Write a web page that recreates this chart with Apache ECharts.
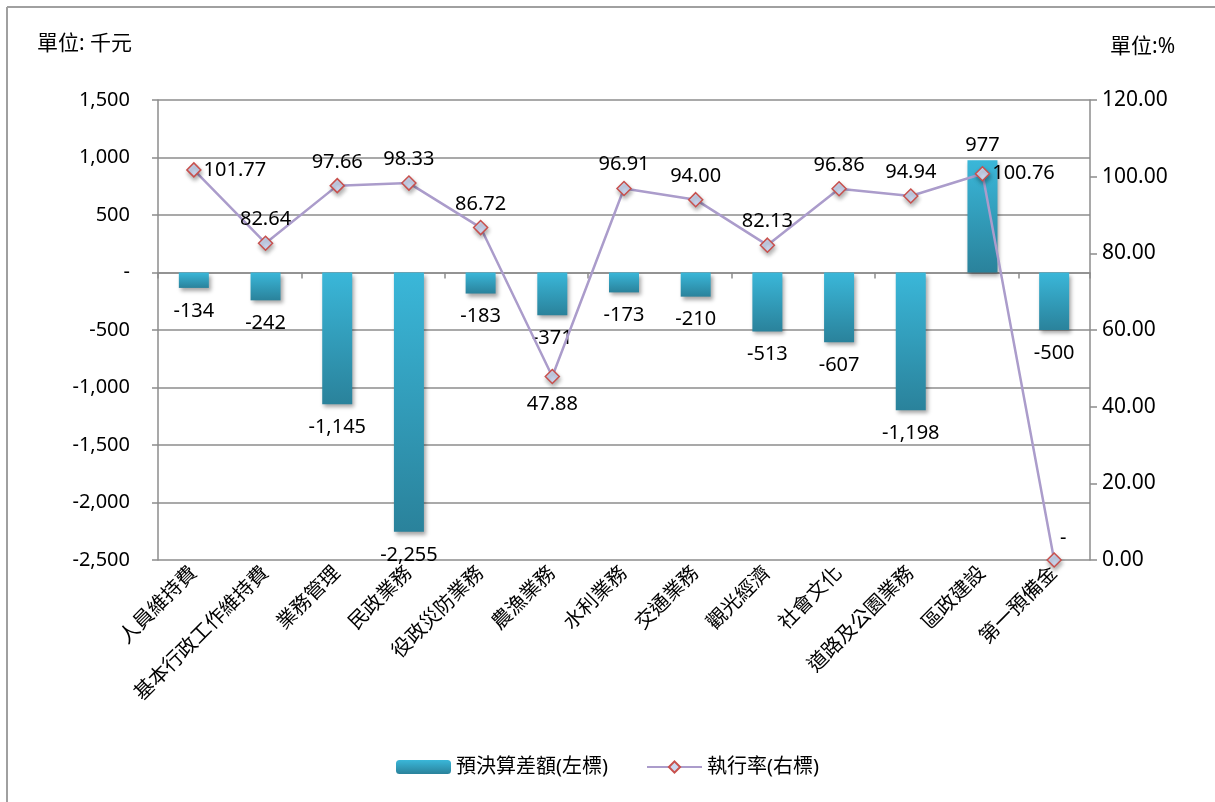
<!DOCTYPE html>
<html>
<head>
<meta charset="utf-8">
<script src="https://cdn.jsdelivr.net/npm/echarts@6/dist/echarts.min.js"></script>
<style>
html,body{margin:0;padding:0;background:#fff;}
#chart{width:1215px;height:802px;}
</style>
</head>
<body>
<div id="chart"></div>
<script>
const categories = ['人員維持費','基本行政工作維持費','業務管理','民政業務','役政災防業務','農漁業務','水利業務','交通業務','觀光經濟','社會文化','道路及公園業務','區政建設','第一預備金'];
const diffValues = [-134, -242, -1145, -2255, -183, -371, -173, -210, -513, -607, -1198, 977, -500];
const rateValues = [101.77, 82.64, 97.66, 98.33, 86.72, 47.88, 96.91, 94.00, 82.13, 96.86, 94.94, 100.76, 0];
const rateLabelPos = ['right','top','top','top','top','bottom','top','top','top','top','top','right','right'];
const barName = '預決算差額(左標)';
const lineName = '執行率(右標)';

const FONT = '"Noto Sans", "Noto Sans CJK TC", sans-serif';
const axisGray = '#8c8c8c';

const chart = echarts.init(document.getElementById('chart'));

function fmtLeft(v){
  if (v === 0) return '-';
  const s = Math.abs(v).toString().replace(/\B(?=(\d{3})+(?!\d))/g, ',');
  return (v < 0 ? '-' : '') + s;
}

const lineData = rateValues.map((v, i) => {
  const pos = rateLabelPos[i];
  const item = { value: v, label: { position: pos } };
  if (pos === 'right') item.label.distance = 2;
  if (pos === 'bottom') item.label.distance = 10;
  if (i === rateValues.length - 1) {
    item.label.offset = [-4, -22];
  }
  return item;
});

const barData = diffValues.map(v => (v > 0 ? { value: v, label: { distance: 5 } } : v));

const barGradient = new echarts.graphic.LinearGradient(0, 0, 0, 1, [
  { offset: 0, color: '#3ab7d9' },
  { offset: 1, color: '#2a829b' }
]);

chart.setOption({
  animation: false,
  textStyle: { fontFamily: FONT },
  graphic: [
    { type: 'line', shape: { x1: 7, y1: 7, x2: 1215, y2: 7 }, style: { stroke: '#a0a0a0', lineWidth: 2 } },
    { type: 'line', shape: { x1: 7, y1: 7, x2: 7, y2: 802 }, style: { stroke: '#a0a0a0', lineWidth: 2 } },
    { type: 'text', left: 37, top: 34, style: { text: '單位: 千元', fontSize: 21, fontFamily: FONT, fill: '#000' } },
    { type: 'text', left: 1110, top: 37, style: { text: '單位:%', fontSize: 21, fontFamily: FONT, fill: '#000' } }
  ],
  legend: {
    bottom: 20,
    left: 'center',
    itemWidth: 55,
    itemHeight: 14,
    itemGap: 38,
    textStyle: { fontSize: 20, color: '#000', fontFamily: FONT },
    data: [barName, lineName]
  },
  grid: { left: 158, right: 125, top: 100, bottom: 242, containLabel: false },
  xAxis: [
    {
      type: 'category',
      data: categories,
      position: 'bottom',
      axisLine: { show: false, onZero: false },
      axisTick: { show: false },
      axisLabel: { rotate: 45, fontSize: 20, color: '#000', margin: 10, interval: 0, fontFamily: FONT }
    },
    {
      type: 'category',
      data: categories,
      position: 'bottom',
      axisLine: { show: true, onZero: true, onZeroAxisIndex: 0, lineStyle: { color: axisGray, width: 1.5 } },
      axisTick: { show: true, length: 6, lineStyle: { color: axisGray, width: 1.5 } },
      axisLabel: { show: false },
      splitLine: { show: false }
    }
  ],
  yAxis: [
    {
      type: 'value',
      min: -2500, max: 1500, interval: 500,
      axisLine: { show: true, lineStyle: { color: axisGray, width: 1.5 } },
      axisTick: { show: true, length: 6, lineStyle: { color: axisGray, width: 1.5 } },
      axisLabel: { fontSize: 20, color: '#000', margin: 28, formatter: fmtLeft, fontFamily: FONT },
      splitLine: { show: true, lineStyle: { color: axisGray, width: 1.5 } }
    },
    {
      type: 'value',
      min: 0, max: 120, interval: 20,
      position: 'right',
      axisLine: { show: true, lineStyle: { color: axisGray, width: 1.5 } },
      axisTick: { show: true, length: 7, lineStyle: { color: axisGray, width: 1.5 } },
      axisLabel: { fontSize: 21, color: '#000', margin: 12, formatter: v => v.toFixed(2), fontFamily: FONT },
      splitLine: { show: false }
    }
  ],
  series: [
    {
      name: barName,
      type: 'bar',
      xAxisIndex: 0,
      yAxisIndex: 0,
      data: barData,
      barWidth: 30,
      itemStyle: {
        color: barGradient,
        shadowBlur: 4,
        shadowOffsetX: 2,
        shadowOffsetY: 3,
        shadowColor: 'rgba(0,0,0,0.35)'
      },
      label: {
        show: true,
        position: 'outside',
        distance: 13,
        fontSize: 20,
        color: '#000',
        fontFamily: FONT,
        formatter: p => fmtLeft(p.value)
      },
      z: 2
    },
    {
      name: lineName,
      type: 'line',
      xAxisIndex: 0,
      yAxisIndex: 1,
      data: lineData,
      symbol: 'diamond',
      symbolSize: 14,
      lineStyle: { color: '#ab9ccb', width: 2.5 },
      itemStyle: {
        color: '#ccd7ef',
        borderColor: '#c8504d',
        borderWidth: 1.5,
        shadowBlur: 4,
        shadowOffsetX: 1,
        shadowOffsetY: 3,
        shadowColor: 'rgba(0,0,0,0.3)'
      },
      label: {
        show: true,
        fontSize: 20,
        color: '#000',
        distance: 6,
        fontFamily: FONT,
        formatter: p => (p.value === 0 ? '-' : p.value.toFixed(2))
      },
      z: 5
    }
  ]
});
</script>
</body>
</html>
